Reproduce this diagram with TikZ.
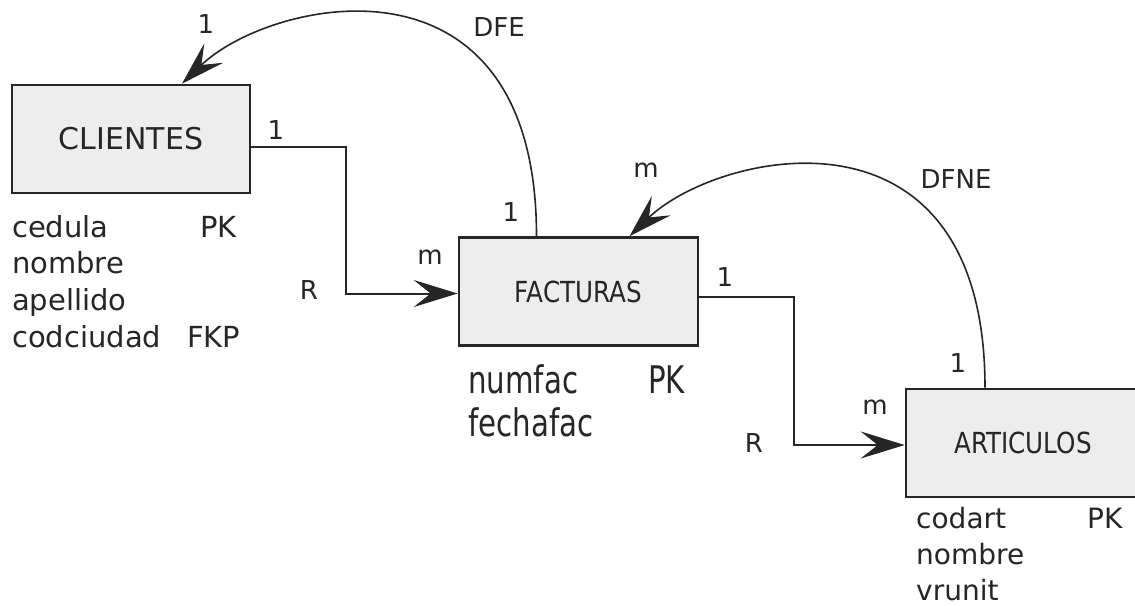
\documentclass[tikz,border=0pt]{standalone}
\usepackage{fontspec}
\setmainfont{DejaVu Sans}
\newfontfamily\narrowfont[FakeStretch=0.85]{DejaVu Sans}
\newfontfamily\tallfont[FakeStretch=0.77]{DejaVu Sans}
\usetikzlibrary{arrows.meta,positioning}

\begin{document}
\begin{tikzpicture}[x=1pt,y=-1pt]
    % Define styles
    \tikzstyle{entity}=[draw=black!85, line width=2.6pt, fill=black!7, inner sep=0pt, text=black!85, minimum height=108pt]
    \tikzstyle{attr}=[anchor=base west, inner sep=0pt, text=black!85, font=\fontsize{29}{34}\selectfont]
    \tikzstyle{card}=[inner sep=0pt, text=black!85, font=\fontsize{26}{30}\selectfont]
    \tikzstyle{rel line}=[draw=black!85, line width=2pt, -{Stealth[length=44pt,width=27pt,inset=17pt]}]
    \tikzstyle{dep line}=[rel line, line width=1.6pt]

    % Canvas
    \useasboundingbox (0,0) rectangle (1135,605);
    \fill[white] (0,0) rectangle (1135,605);
    \clip (0,0) rectangle (1135,605);

    % Tables
    \node[entity, minimum width=238pt, font=\fontsize{30}{36}\selectfont] (cli) at (131,139) {CLIENTES};
    \node[entity, minimum width=239pt, font=\narrowfont\fontsize{29}{34}\selectfont] (fac) at (578.5,291.5) {FACTURAS};
    \node[entity, minimum width=234pt, font=\narrowfont\fontsize{29}{34}\selectfont] (art) at (1023,443) {ARTICULOS};

    % Attributes
    \foreach \t [count=\i from 0] in {cedula,nombre,apellido,codciudad} {
        \node[attr] (cli-\i) at (12,{237+36.7*\i}) {\t};
    }
    \node[attr] (cli-pk) at (200,237) {PK};
    \node[attr] (cli-fkp) at (187,347) {FKP};

    \node[attr, font=\tallfont\fontsize{38}{44}\selectfont] (fac-0) at (468,393) {numfac};
    \node[attr, font=\tallfont\fontsize{38}{44}\selectfont] (fac-1) at (468,436) {fechafac};
    \node[attr, font=\tallfont\fontsize{38}{44}\selectfont] (fac-pk) at (648,393) {PK};

    \foreach \t [count=\i from 0] in {codart,nombre,vrunit} {
        \node[attr, font=\fontsize{28}{34}\selectfont] (art-\i) at (916,{528+36*\i}) {\t};
    }
    \node[attr, font=\fontsize{28}{34}\selectfont] (art-pk) at (1087,528) {PK};

    % Relations
    \draw[rel line] ([yshift=-8pt]cli.east) -- ++(95,0) |- ([yshift=-2pt]fac.west);
    \draw[rel line] ([yshift=-5pt]fac.east) -- ++(95,0) |- ([yshift=-2pt]art.west);

    % Dependencies
    \draw[dep line] ([xshift=-42pt]fac.north) .. controls +(0,-297) and +(88,-85) .. ([xshift=51pt]cli.north);
    \draw[dep line] ([xshift=-38pt]art.north) .. controls +(0,-297) and +(88,-85) .. ([xshift=51pt]fac.north);

    % Labels
    \node[card] (cli-one) at (276,130) {1};
    \node[card] (fac-m) at (430,257) {m};
    \node[card] (cf-r) at (309,290) {R};
    \node[card] (fac-one) at (725,277) {1};
    \node[card] (art-m) at (875,407) {m};
    \node[card] (fa-r) at (754,443) {R};
    \node[card] (dfe-src) at (511,212) {1};
    \node[card] (dfe-dst) at (206,24) {1};
    \node[card] (dfe) at (499,27) {DFE};
    \node[card] (dfne-src) at (958,363) {1};
    \node[card] (dfne-dst) at (646,170) {m};
    \node[card] (dfne) at (956,179) {DFNE};
\end{tikzpicture}
\end{document}
